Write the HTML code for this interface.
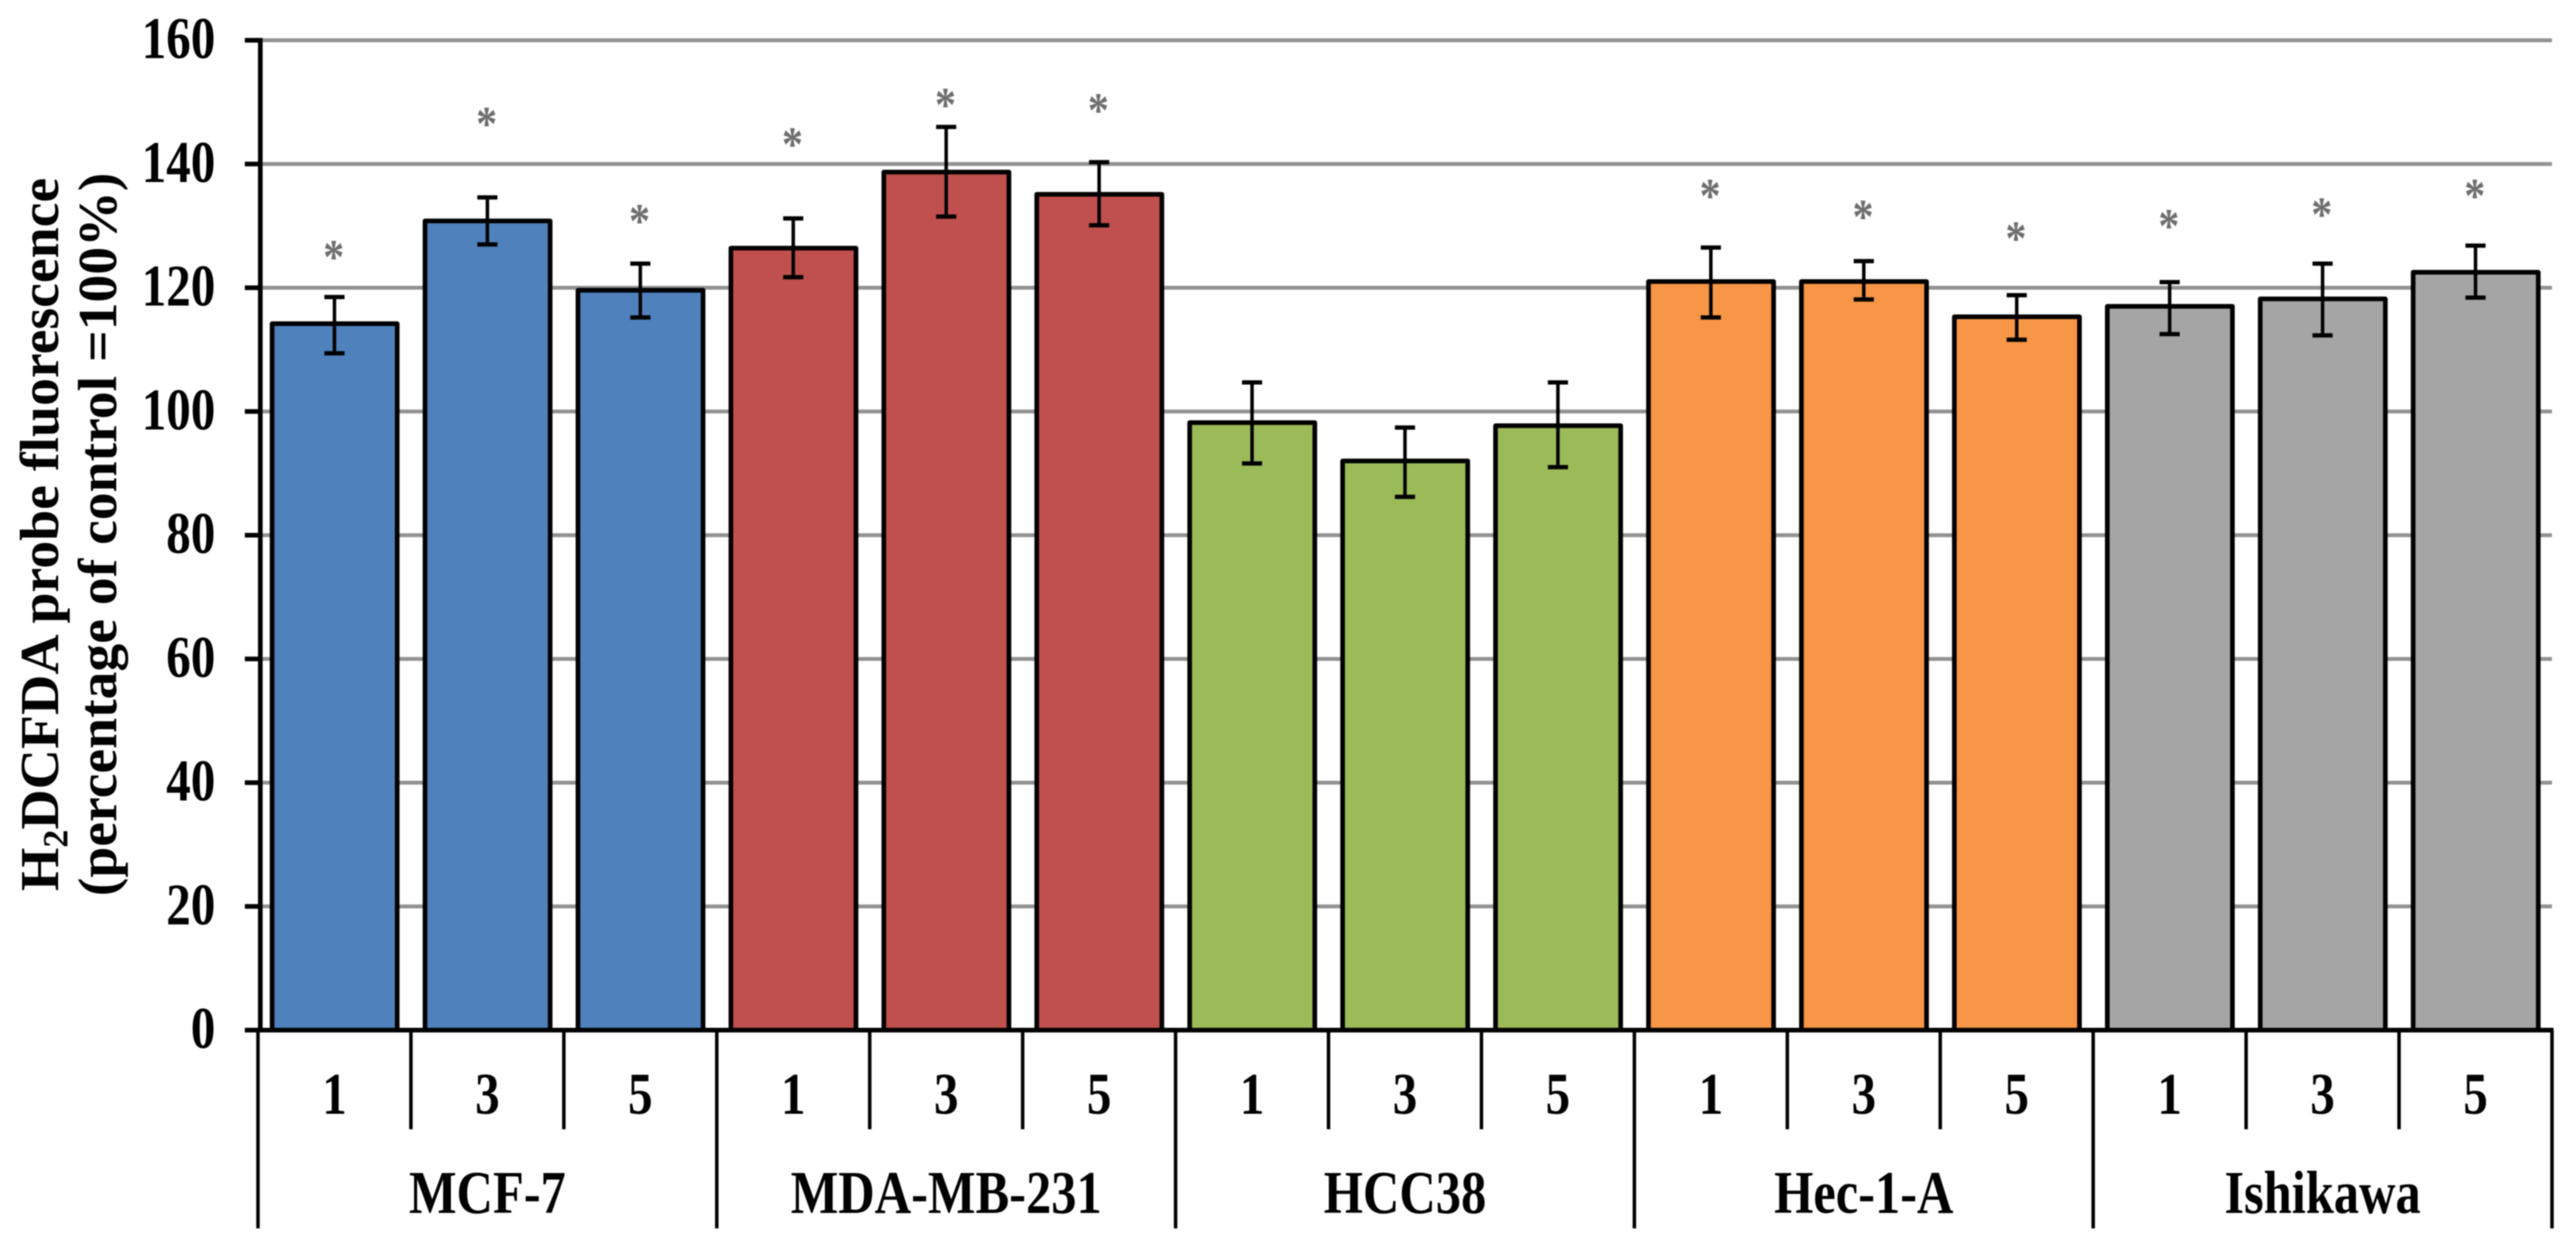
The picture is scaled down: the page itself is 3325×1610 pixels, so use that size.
<!DOCTYPE html>
<html lang="en">
<head>
<meta charset="utf-8">
<title>H2DCFDA probe fluorescence chart</title>
<style>
html,body{margin:0;padding:0;background:#fff;width:3325px;height:1610px;overflow:hidden}
svg{display:block;filter:blur(0.9px)}
text{font-family:"Liberation Serif",serif;font-weight:bold;fill:#000}
</style>
</head>
<body>
<svg id="chart" xmlns="http://www.w3.org/2000/svg" width="3325" height="1610" viewBox="0 0 3325 1610">
  <rect x="0" y="0" width="3325" height="1610" fill="#ffffff"/>
  <g id="grid"></g>
  <g id="bars"></g>
  <g id="errors"></g>
  <g id="stars"></g>
  <g id="axes"></g>
  <text transform="translate(75,690) rotate(-90)" text-anchor="middle" font-size="71" textLength="921" lengthAdjust="spacingAndGlyphs">H<tspan font-size="46" dy="12">2</tspan><tspan dy="-12">DCFDA probe fluorescence</tspan></text>
  <text transform="translate(150,690) rotate(-90)" text-anchor="middle" font-size="71" textLength="934" lengthAdjust="spacingAndGlyphs">(percentage of control =100%)</text>
</svg>
<script>
const cellLines = ['MCF-7', 'MDA-MB-231', 'HCC38', 'Hec-1-A', 'Ishikawa'];
const doses = ['1', '3', '5'];
const groupColors = ['#4f81bd', '#c0504d', '#9bbb59', '#f79646', '#a5a5a5'];
const yTicks = [0, 20, 40, 60, 80, 100, 120, 140, 160];
const meanValues = [114.2, 130.8, 119.6, 126.4, 138.7, 135.1, 98.2, 92.0, 97.7, 121.0, 121.0, 115.3, 117.0, 118.2, 122.5];
const errorUpper = [118.5, 134.6, 123.9, 131.2, 146.0, 140.3, 104.7, 97.4, 104.7, 126.5, 124.3, 118.8, 120.9, 123.9, 126.8];
const errorLower = [109.4, 127.0, 115.2, 121.7, 131.5, 130.1, 91.6, 86.2, 91.0, 115.2, 118.1, 111.6, 112.5, 112.3, 118.4];
const starLevels = [126.2, 147.7, 132.0, 144.4, 150.8, 149.9, null, null, null, 136.1, 132.7, 129.2, 131.2, 133.1, 136.1];

const NS = 'http://www.w3.org/2000/svg';
const plotLeft = 333, plotRight = 3294, axisY = 1330, topY = 52, yMax = 160;
const catCount = cellLines.length * doses.length;
const catStep = (plotRight - plotLeft) / catCount;
const xCenter = i => plotLeft + catStep * (i + 0.5);
const xEdge = i => plotLeft + catStep * i;
const yPos = v => axisY - (v / yMax) * (axisY - topY);

function mk(tag, parent, attrs, content) {
  const node = document.createElementNS(NS, tag);
  for (const k in attrs) node.setAttribute(k, attrs[k]);
  if (content !== undefined) node.textContent = content;
  parent.appendChild(node);
  return node;
}
const gGrid = document.getElementById('grid');
const gBars = document.getElementById('bars');
const gErr = document.getElementById('errors');
const gStars = document.getElementById('stars');
const gAxes = document.getElementById('axes');
let el;

yTicks.forEach(t => {
  if (t > 0) {
    el = mk('line', gGrid, {x1: 336, x2: plotRight, y1: yPos(t), y2: yPos(t), stroke: '#929292', 'stroke-width': 5});
    
    
  }
  el = mk('line', gAxes, {x1: 316, x2: 336, y1: yPos(t), y2: yPos(t), stroke: '#000', 'stroke-width': 6});
  
  
  el = mk('text', gAxes, {transform: 'translate(278,' + (yPos(t) + 23) + ') scale(.835,1)', 'text-anchor': 'end', 'font-size': 76}, String(t));
  
  
});

meanValues.forEach((v, i) => {
  const group = Math.floor(i / doses.length);
  const cx = xCenter(i);
  el = mk('rect', gBars, {x: cx - 80.5, y: yPos(v), width: 161.5, height: axisY - yPos(v), fill: groupColors[group], stroke: '#000', 'stroke-width': 6, 'stroke-linejoin': 'round'});
  
  

  el = mk('line', gErr, {x1: cx, x2: cx, y1: yPos(errorUpper[i]), y2: yPos(errorLower[i]), stroke: '#000', 'stroke-width': 4.5});
  
  
  el = mk('line', gErr, {x1: cx - 13, x2: cx + 13, y1: yPos(errorUpper[i]), y2: yPos(errorUpper[i]), stroke: '#000', 'stroke-width': 5.5});
  
  
  el = mk('line', gErr, {x1: cx - 13, x2: cx + 13, y1: yPos(errorLower[i]), y2: yPos(errorLower[i]), stroke: '#000', 'stroke-width': 5.5});
  
  

  if (starLevels[i] !== null) {
    el = mk('text', gStars, {transform: 'translate(' + (cx - 1) + ',' + (yPos(starLevels[i]) + 31) + ') scale(.85,1)', 'text-anchor': 'middle', 'font-size': 64, style: 'fill:#6e6e6e'}, '*');
    
    
  }

  el = mk('text', gAxes, {transform: 'translate(' + cx + ',1438) scale(.835,1)', 'text-anchor': 'middle', 'font-size': 76}, doses[i % doses.length]);
  
  
});

el = mk('line', gAxes, {x1: 336, x2: 336, y1: topY - 3, y2: axisY, stroke: '#000', 'stroke-width': 6});


el = mk('line', gAxes, {x1: 316, x2: plotRight + 2, y1: axisY, y2: axisY, stroke: '#000', 'stroke-width': 6});



for (let i = 0; i <= catCount; i++) {
  const isGroupEdge = i % doses.length === 0;
  el = mk('line', gAxes, {x1: xEdge(i), x2: xEdge(i), y1: axisY, y2: isGroupEdge ? 1586 : 1458, stroke: '#000', 'stroke-width': 4.5});
  
  
}

cellLines.forEach((name, g) => {
  const cx = xCenter(g * doses.length + 1);
  el = mk('text', gAxes, {transform: 'translate(' + cx + ',1566) scale(.835,1)', 'text-anchor': 'middle', 'font-size': 78}, name);
  
  
});
</script>
</body>
</html>
